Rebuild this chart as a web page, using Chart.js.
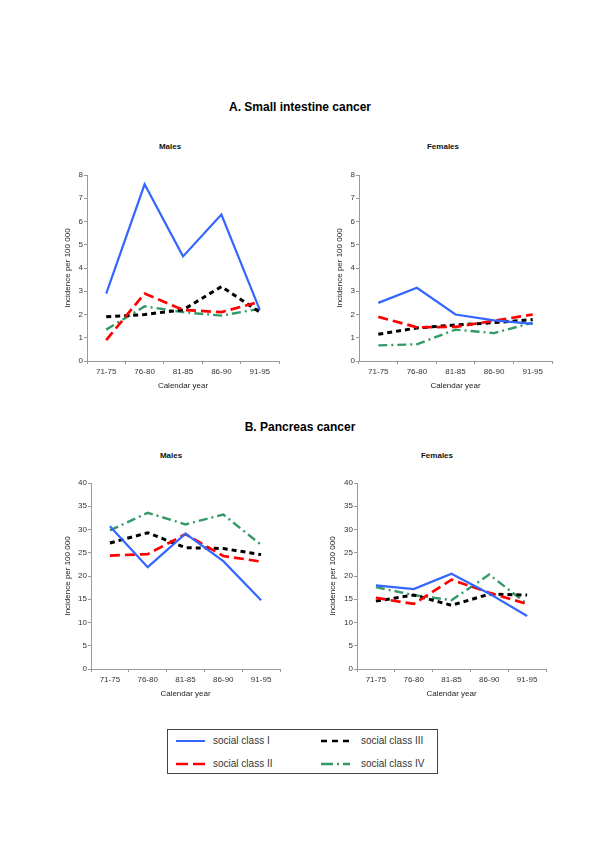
<!DOCTYPE html>
<html><head><meta charset="utf-8">
<script src="https://cdn.jsdelivr.net/npm/chart.js@4"></script>
<style>
body{margin:0;background:#fff;width:600px;height:849px;position:relative;overflow:hidden;font-family:"Liberation Sans",Arial,Helvetica,sans-serif}
.t{position:absolute;transform:translate(-50%,-50%);white-space:nowrap;color:#000;line-height:1}
.main{font-size:12px;font-weight:bold}
.sub{font-size:8px;font-weight:bold;color:#111}
canvas{position:absolute}
#legend{position:absolute;left:167px;top:729px;width:271px;height:45px;border:1.5px solid #444;box-sizing:border-box}
.li{position:absolute;font-size:10px;color:#333;line-height:1;transform:translateY(-50%);white-space:nowrap}
.ls{position:absolute;transform:translateY(-50%)}
</style>
</head><body>
<div class="t main" style="left:300px;top:107px">A. Small intestine cancer</div>
<div class="t main" style="left:300px;top:427px">B. Pancreas cancer</div>
<div class="t sub" style="left:170px;top:147px">Males</div>
<div class="t sub" style="left:443px;top:147px">Females</div>
<div class="t sub" style="left:171px;top:456px">Males</div>
<div class="t sub" style="left:437px;top:456px">Females</div>
<canvas id="aM"></canvas>
<canvas id="aF"></canvas>
<canvas id="bM"></canvas>
<canvas id="bF"></canvas>
<div id="legend">
  <svg class="ls" style="left:8px;top:11px" width="30" height="4"><line x1="0" y1="2" x2="29" y2="2" stroke="#3366FF" stroke-width="2"/></svg>
  <div class="li" style="left:45px;top:11px">social class I</div>
  <svg class="ls" style="left:8px;top:34px" width="30" height="4"><line x1="0" y1="2" x2="29" y2="2" stroke="#FF0000" stroke-width="2.5" stroke-dasharray="12 5"/></svg>
  <div class="li" style="left:45px;top:34px">social class II</div>
  <svg class="ls" style="left:153px;top:11px" width="30" height="4"><line x1="0" y1="2" x2="29" y2="2" stroke="#000" stroke-width="2.5" stroke-dasharray="6 5"/></svg>
  <div class="li" style="left:193px;top:11px">social class III</div>
  <svg class="ls" style="left:153px;top:34px" width="30" height="4"><line x1="0" y1="2" x2="29" y2="2" stroke="#339966" stroke-width="2.5" stroke-dasharray="12 4 2 4"/></svg>
  <div class="li" style="left:193px;top:34px">social class IV</div>
</div>
<script>
const categories = ['71-75','76-80','81-85','86-90','91-95'];
const seriesNames = ['social class I','social class II','social class III','social class IV'];

const smallMalesI   = [2.9, 7.6, 4.5, 6.3, 2.2];
const smallMalesII  = [0.9, 2.9, 2.2, 2.1, 2.55];
const smallMalesIII = [1.9, 2.0, 2.2, 3.2, 2.1];
const smallMalesIV  = [1.35, 2.35, 2.1, 1.95, 2.25];

const smallFemalesI   = [2.5, 3.15, 2.0, 1.75, 1.6];
const smallFemalesII  = [1.9, 1.45, 1.47, 1.73, 2.0];
const smallFemalesIII = [1.15, 1.42, 1.55, 1.65, 1.78];
const smallFemalesIV  = [0.67, 0.72, 1.35, 1.2, 1.65];

const pancMalesI   = [30.7, 21.9, 29.1, 23.2, 14.8];
const pancMalesII  = [24.4, 24.7, 29.0, 24.3, 23.1];
const pancMalesIII = [27.1, 29.3, 26.1, 25.9, 24.6];
const pancMalesIV  = [29.8, 33.6, 31.1, 33.2, 26.7];

const pancFemalesI   = [18.0, 17.2, 20.5, 16.2, 11.4];
const pancFemalesII  = [15.3, 14.0, 19.2, 16.4, 14.0];
const pancFemalesIII = [14.6, 15.9, 13.7, 16.1, 15.9];
const pancFemalesIV  = [17.6, 15.9, 14.8, 20.3, 14.0];

const yTicksA = {max: 8, step: 1};
const yTicksB = {max: 40, step: 5};

Chart.defaults.font.family = '"Liberation Sans", Arial, Helvetica, sans-serif';

const styles = [
  {color:'#3366FF', width:2.2, dash:[]},
  {color:'#FF0000', width:2.7, dash:[10,5]},
  {color:'#000000', width:3, dash:[5,4]},
  {color:'#339966', width:2.4, dash:[9,4,2,4]}
];

function panel(id, box, yt, titleOff, series){
  const cv = document.getElementById(id);
  const L = 50, T = 14, R = 12, B = 40;
  const w = (box.x1 - box.x0) + L + R;
  const h = (box.y1 - box.y0) + T + B;
  cv.width = w; cv.height = h;
  cv.style.left = (box.x0 - L) + 'px';
  cv.style.top = (box.y0 - T) + 'px';
  cv.style.width = w + 'px'; cv.style.height = h + 'px';
  new Chart(cv, {
    type: 'line',
    data: {
      labels: categories,
      datasets: series.map((d,i)=>({
        label: seriesNames[i], data: d,
        borderColor: styles[i].color, borderWidth: styles[i].width,
        borderDash: styles[i].dash, pointRadius: 0, tension: 0, fill: false,
        borderCapStyle: 'butt'
      }))
    },
    options: {
      responsive: false, animation: false, devicePixelRatio: 1,
      layout: {padding: {left: 0, top: T, right: R, bottom: 0}},
      plugins: {legend: {display: false}, tooltip: {enabled: false}, title: {display: false}},
      scales: {
        x: {
          type: 'category', offset: true,
          grid: {drawOnChartArea: false, drawTicks: true, tickLength: 3, color: '#999', offset: true},
          border: {display: true, color: '#999', width: 1},
          ticks: {color: '#333', font: {size: 8}, padding: 3, maxRotation: 0, autoSkip: false},
          title: {display: true, text: 'Calendar year', color: '#222', font: {size: 8}, padding: {top: 0, bottom: 10}},
          afterFit: s => { s.height = B; }
        },
        y: {
          min: 0, max: yt.max,
          ticks: {stepSize: yt.step, color: '#333', font: {size: 8}, padding: 1},
          grid: {drawOnChartArea: false, drawTicks: true, tickLength: 3, color: '#999'},
          border: {display: true, color: '#999', width: 1},
          title: {display: true, text: 'Incidence per 100 000', color: '#222', font: {size: 8}, padding: {top: L - titleOff - 4.8, bottom: 0}},
          afterFit: s => { s.width = L; }
        }
      }
    }
  });
}

panel('aM', {x0:87, y0:175, x1:279, y1:361}, yTicksA, 19, [smallMalesI, smallMalesII, smallMalesIII, smallMalesIV]);
panel('aF', {x0:359, y0:175, x1:552, y1:361}, yTicksA, 19, [smallFemalesI, smallFemalesII, smallFemalesIII, smallFemalesIV]);
panel('bM', {x0:91, y0:483, x1:280, y1:669}, yTicksB, 23, [pancMalesI, pancMalesII, pancMalesIII, pancMalesIV]);
panel('bF', {x0:357, y0:483, x1:546, y1:669}, yTicksB, 24, [pancFemalesI, pancFemalesII, pancFemalesIII, pancFemalesIV]);
</script>
</body></html>
